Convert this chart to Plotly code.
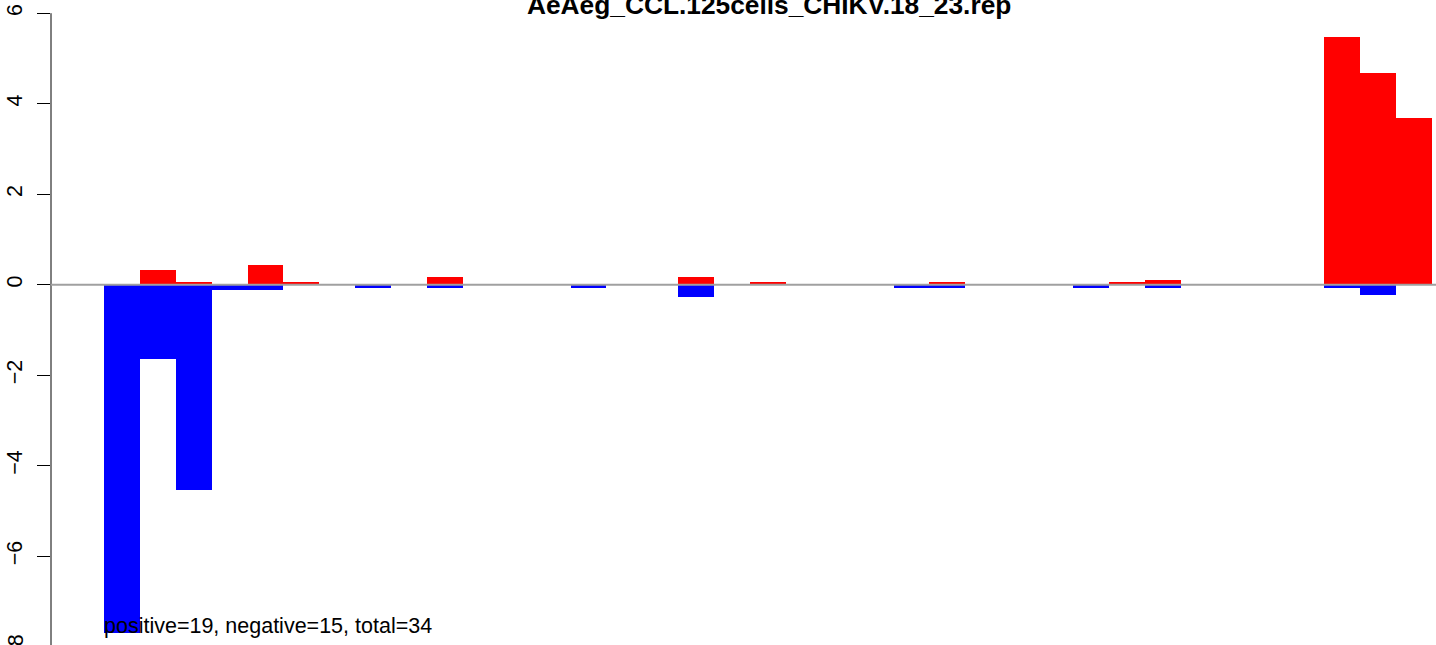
import plotly.graph_objects as go

# ---- data ----
title_text = "AeAeg_CCL.125cells_CHIKV.18_23.rep"
slots = list(range(37))  # bar slots, left to right
pos_values = [0, 0.325, 0.06, 0, 0.435, 0.06, 0, 0, 0, 0.17,
              0, 0, 0, 0, 0, 0, 0.17, 0, 0.06, 0,
              0, 0, 0, 0.06, 0, 0, 0, 0, 0.06, 0.10,
              0, 0, 0, 0, 5.47, 4.68, 3.68]
neg_values = [-7.70, -1.64, -4.54, -0.11, -0.11, 0, 0, -0.066, 0, -0.066,
              0, 0, 0, -0.066, 0, 0, -0.27, 0, 0, 0,
              0, 0, -0.066, -0.066, 0, 0, 0, -0.066, 0, -0.066,
              0, 0, 0, 0, -0.066, -0.22, 0]
y_ticks = [-8, -6, -4, -2, 0, 2, 4, 6]
summary_text = "positive=19, negative=15, total=34"

W, H = 1436, 645
FONT = "Liberation Sans, Arial, sans-serif"

xs = [s + 0.5 for s in slots]

fig = go.Figure()
fig.add_trace(go.Bar(x=xs, y=pos_values, width=1, marker_color="#FF0000",
                     marker_line_width=0, showlegend=False))
fig.add_trace(go.Bar(x=xs, y=neg_values, width=1, marker_color="#0000FF",
                     marker_line_width=0, showlegend=False))

x_px_per_unit = 35.89
left_margin = 51
x0 = (left_margin - 104) / x_px_per_unit
x1 = x0 + (W - left_margin) / x_px_per_unit

zero_px = 284.7
y_px_per_unit = 45.25
y_top = zero_px / y_px_per_unit
y_bot = (zero_px - H) / y_px_per_unit

fig.update_layout(
    width=W, height=H,
    margin=dict(l=left_margin, r=0, t=0, b=0, autoexpand=False),
    paper_bgcolor="white", plot_bgcolor="white",
    barmode="overlay", bargap=0,
    font=dict(family=FONT, color="black", size=21.5),
    xaxis=dict(range=[x0, x1], visible=False, showgrid=False, zeroline=False),
    yaxis=dict(range=[y_bot, y_top], tickvals=y_ticks,
               ticktext=[("\u2212" + str(-v)) if v < 0 else str(v) for v in y_ticks],
               ticks="outside", ticklen=13, tickwidth=1, tickcolor="black",
               tickangle=-90, ticklabelstandoff=6,
               showgrid=False, zeroline=False, showline=False,
               tickfont=dict(size=21.5, family=FONT, color="black")),
)

# y axis line from -8 to 6 (R style)
fig.add_shape(type="line", xref="paper", yref="y", x0=0, x1=0,
              y0=min(y_ticks), y1=max(y_ticks), line=dict(color="black", width=1))
# zero reference line
fig.add_shape(type="line", xref="paper", yref="y", x0=0, x1=1, y0=0, y1=0,
              line=dict(color="#A0A0A0", width=2), layer="above")

# partially visible bottom tick label (just below the visible range)
bottom_label_paper_y = (min(y_ticks) - y_bot) / (y_top - y_bot)
fig.add_annotation(xref="paper", yref="paper", x=0, y=bottom_label_paper_y,
                   text="\u2212" + str(-min(y_ticks)), textangle=-90,
                   showarrow=False, xanchor="center", yanchor="middle",
                   xshift=-35, font=dict(size=21.5, family=FONT, color="black"))

# title
fig.add_annotation(xref="paper", yref="paper", x=(768.8 - left_margin) / (W - left_margin),
                   y=1 - 5.5 / H, text="<b>" + title_text + "</b>", showarrow=False,
                   xanchor="center", yanchor="middle",
                   font=dict(size=26.3, family=FONT, color="black"))

# summary text
fig.add_annotation(xref="x", yref="y", x=0, y=(zero_px - 625.6) / y_px_per_unit,
                   text=summary_text, showarrow=False, xanchor="left", yanchor="middle",
                   xshift=-2, font=dict(size=21.5, family=FONT, color="black"))

fig.write_html("out.html", config={"displayModeBar": False},
               post_script="document.body.style.margin='0';")
